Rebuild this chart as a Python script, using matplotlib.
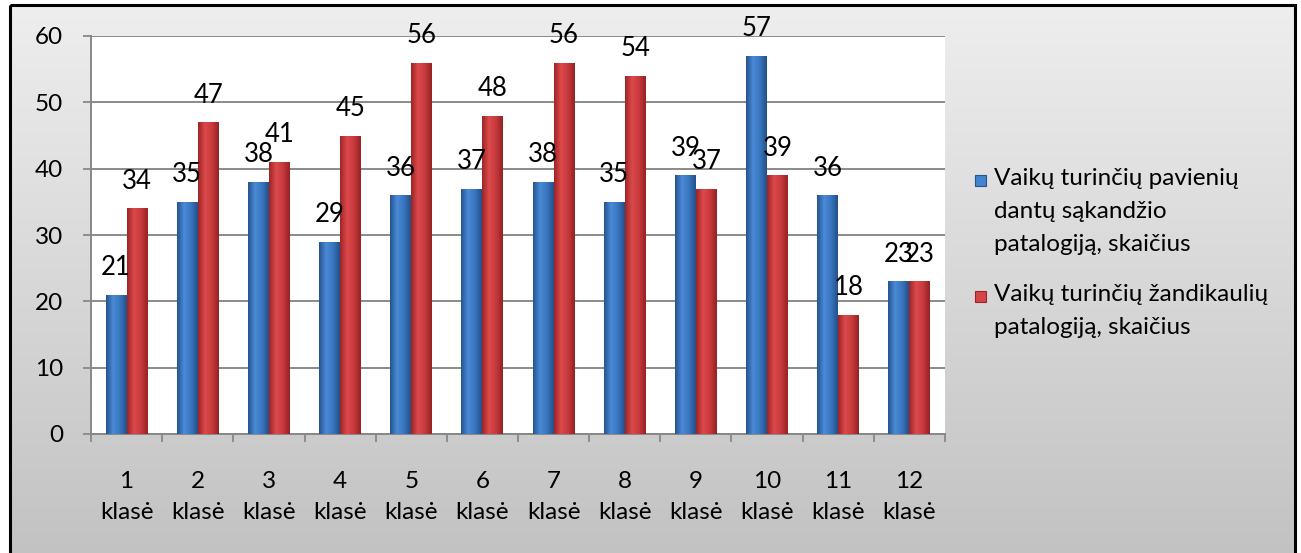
import numpy as np
import matplotlib
matplotlib.use("Agg")
import matplotlib.pyplot as plt
from matplotlib.patches import Rectangle

plt.rcParams['font.family'] = ['Lato', 'DejaVu Sans']

# data
classes = ["1\nklasė", "2\nklasė", "3\nklasė", "4\nklasė", "5\nklasė", "6\nklasė",
           "7\nklasė", "8\nklasė", "9\nklasė", "10\nklasė", "11\nklasė", "12\nklasė"]
single_teeth = [21, 35, 38, 29, 36, 37, 38, 35, 39, 57, 36, 23]
jaw = [34, 47, 41, 45, 56, 48, 56, 54, 37, 39, 18, 23]
legend_labels = ["Vaikų turinčių pavienių\ndantų sąkandžio\npatalogiją, skaičius",
                 "Vaikų turinčių žandikaulių\npatalogiją, skaičius"]

W, H = 1301, 553
fig = plt.figure(figsize=(W / 100, H / 100), dpi=100)

# grey gradient background inside a black frame
bg = fig.add_axes([0, 0, 1, 1], zorder=-10)
bg.set_xlim(0, W)
bg.set_ylim(H, 0)
bg.axis("off")
grad = np.linspace(0, 1, 256).reshape(-1, 1)
bg.imshow(grad, cmap=matplotlib.colors.LinearSegmentedColormap.from_list("g", ["#eeeeee", "#c2c2c2"]),
          extent=[11, 1294, H + 5, 6], aspect="auto")
bg.add_patch(Rectangle((10, 5), 1285, H + 20, fill=False, edgecolor="black", linewidth=2.2))

ax = fig.add_axes([91 / W, 1 - 434 / H, (945 - 91) / W, (434 - 36) / H])
ax.set_facecolor("white")

x = np.arange(1, len(classes) + 1)
w = 0.295
blue_cmap = matplotlib.colors.LinearSegmentedColormap.from_list("b", ["#25548f", "#4a8ad6", "#3a76c0", "#23508a"])
red_cmap = matplotlib.colors.LinearSegmentedColormap.from_list("r", ["#9c2426", "#dc4a4c", "#c83a3c", "#962224"])

hgrad = np.linspace(0, 1, 64).reshape(1, -1)
for vals, off, cm in [(single_teeth, -w / 2, blue_cmap), (jaw, w / 2, red_cmap)]:
    bars = ax.bar(x + off, vals, width=w, color=cm(0.5), edgecolor="none", zorder=3)
    for b, v in zip(bars, vals):
        im = ax.imshow(hgrad, cmap=cm, aspect="auto", zorder=3.5,
                       extent=[b.get_x(), b.get_x() + b.get_width(), 0, v])
        im.set_clip_path(b)
        ax.annotate(str(v), (b.get_x() + b.get_width() / 2, v), xytext=(0, 19.5),
                    textcoords="offset points", ha="center", va="center",
                    fontsize=18.5, color="black", zorder=5)

ax.set_xlim(0.5, len(classes) + 0.5)
ax.set_ylim(0, 60)
ax.set_yticks(range(0, 61, 10))
ax.tick_params(axis="y", length=6, width=1.3, color="#888888", pad=14, labelsize=17.5)
ax.yaxis.grid(True, color="#8a8a8a", linewidth=1.4, zorder=1)
ax.set_axisbelow(True)

ax.set_xticks(x)
ax.set_xticklabels(classes, fontsize=17.5, linespacing=1.55)
ax.set_xticks(np.arange(0.5, len(classes) + 1, 1), minor=True)
ax.tick_params(axis="x", which="major", length=0, pad=27)
ax.tick_params(axis="x", which="minor", length=6, width=1.3, color="#888888")

for s in ["top", "right"]:
    ax.spines[s].set_visible(False)
for s in ["left", "bottom"]:
    ax.spines[s].set_color("#888888")
    ax.spines[s].set_linewidth(1.4)

# legend drawn by hand so the marker sits on the first line
leg_y = [180, 296]
for lbl, cm, yy in zip(legend_labels, [blue_cmap, red_cmap], leg_y):
    bg.add_patch(Rectangle((975, yy - 5.5), 11, 11, facecolor=cm(0.45), edgecolor=cm(0.0), linewidth=0.8))
    bg.text(994, yy - 12, lbl, fontsize=17.5, va="top", ha="left", linespacing=1.72,
            transform=bg.transData)

fig.savefig("out.png", dpi=100)
